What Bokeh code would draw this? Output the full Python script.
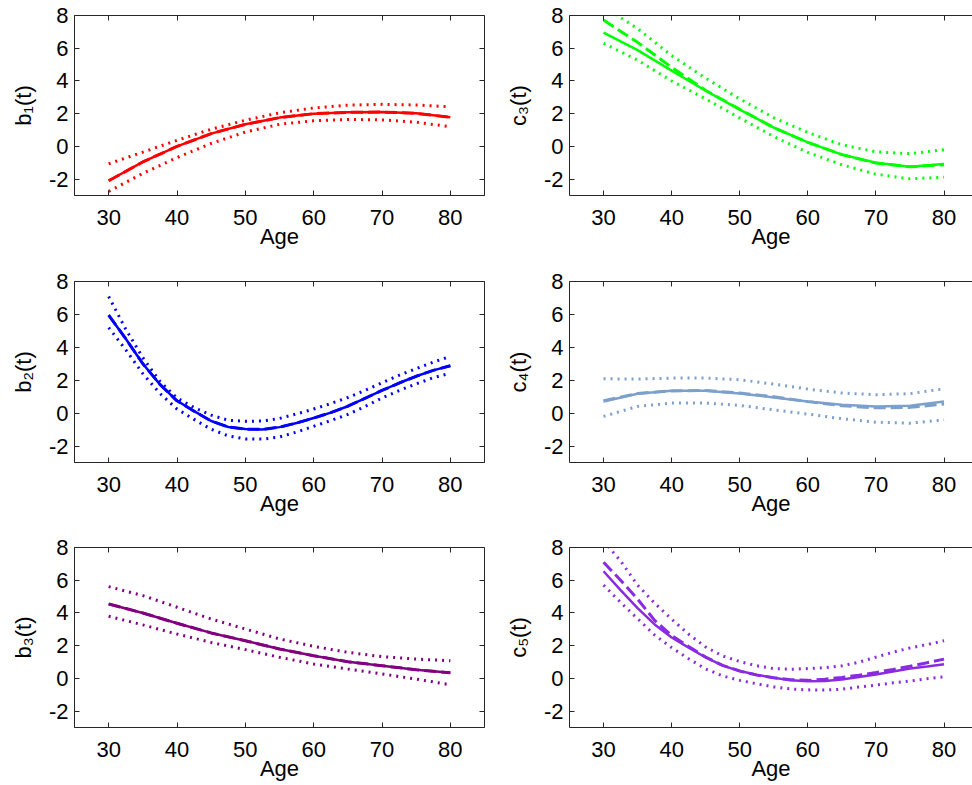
from bokeh.plotting import figure
from bokeh.layouts import gridplot
from bokeh.models import FixedTicker, LinearAxis, Range1d
from bokeh.embed import file_html
from bokeh.resources import INLINE

# ---------------- data ----------------
AGE_5 = [30, 35, 40, 45, 50, 55, 60, 65, 70, 75, 80]
AGE_25 = [30, 32.5, 35, 37.5, 40, 42.5, 45, 47.5, 50, 52.5, 55, 57.5, 60,
          62.5, 65, 67.5, 70, 72.5, 75, 77.5, 80]
X_TICKS = [30, 40, 50, 60, 70, 80]
Y_TICKS = [-2, 0, 2, 4, 6, 8]
X_LIMITS = [25, 85]
Y_LIMITS = [-3, 8]
X_LABEL = "Age"

# b1(t)
B1_LABEL = "b\u2081(t)"
B1_EST = [-2.1, -0.95, 0.0, 0.78, 1.35, 1.76, 2.0, 2.08, 2.1, 2.02, 1.78]
B1_TRUE = [-2.1, -0.95, 0.0, 0.78, 1.35, 1.76, 2.0, 2.08, 2.1, 2.02, 1.78]
B1_UP = [-1.06, -0.35, 0.37, 1.05, 1.6, 2.05, 2.35, 2.52, 2.57, 2.53, 2.42]
B1_LO = [-2.75, -1.65, -0.68, 0.18, 0.88, 1.35, 1.57, 1.65, 1.62, 1.48, 1.2]

# b2(t)
B2_LABEL = "b\u2082(t)"
B2_EST = [5.95, 4.52, 3.0, 1.75, 0.75, 0.12, -0.48, -0.84, -0.97, -0.99, -0.85,
          -0.6, -0.3, 0.03, 0.42, 0.9, 1.38, 1.83, 2.24, 2.6, 2.88]
B2_TRUE = [5.95, 4.52, 3.0, 1.75, 0.75, 0.12, -0.48, -0.84, -0.97, -0.99, -0.85,
           -0.6, -0.3, 0.03, 0.42, 0.9, 1.38, 1.83, 2.24, 2.6, 2.88]
B2_UP = [7.09, 5.1, 3.37, 1.93, 0.92, 0.34, -0.12, -0.43, -0.5, -0.48, -0.32,
         -0.05, 0.25, 0.58, 0.95, 1.38, 1.85, 2.3, 2.7, 3.1, 3.45]
B2_LO = [5.2, 3.85, 2.4, 1.2, 0.25, -0.38, -0.98, -1.38, -1.57, -1.58, -1.45,
         -1.15, -0.8, -0.45, -0.08, 0.4, 0.92, 1.37, 1.78, 2.15, 2.43]

# b3(t)
B3_LABEL = "b\u2083(t)"
B3_EST = [4.55, 4.0, 3.37, 2.78, 2.3, 1.8, 1.39, 1.02, 0.78, 0.53, 0.35]
B3_TRUE = [4.55, 4.0, 3.37, 2.78, 2.3, 1.8, 1.39, 1.02, 0.78, 0.53, 0.35]
B3_UP = [5.61, 5.06, 4.35, 3.63, 3.02, 2.41, 1.96, 1.59, 1.33, 1.18, 1.08]
B3_LO = [3.8, 3.27, 2.71, 2.2, 1.76, 1.29, 0.88, 0.57, 0.27, -0.04, -0.39]

# c3(t)
C3_LABEL = "c\u2083(t)"
C3_EST = [6.96, 5.88, 4.63, 3.4, 2.25, 1.15, 0.25, -0.5, -1.0, -1.25, -1.08]
C3_TRUE = [7.72, 6.36, 4.83, 3.42, 2.27, 1.15, 0.25, -0.5, -1.02, -1.25, -1.12]
C3_UP = [8.55, 7.2, 5.55, 4.17, 2.9, 1.75, 0.85, 0.1, -0.33, -0.45, -0.2]
C3_LO = [6.3, 5.27, 4.0, 2.9, 1.74, 0.6, -0.37, -1.12, -1.7, -1.98, -1.88]

# c4(t)
C4_LABEL = "c\u2084(t)"
C4_EST = [0.71, 1.18, 1.36, 1.36, 1.2, 0.95, 0.71, 0.51, 0.41, 0.45, 0.71]
C4_TRUE = [0.75, 1.2, 1.35, 1.38, 1.22, 1.0, 0.7, 0.45, 0.32, 0.35, 0.55]
C4_UP = [2.09, 2.07, 2.13, 2.13, 2.03, 1.76, 1.46, 1.22, 1.12, 1.18, 1.48]
C4_LO = [-0.2, 0.41, 0.61, 0.61, 0.47, 0.2, -0.06, -0.34, -0.55, -0.61, -0.41]

# c5(t)
C5_LABEL = "c\u2085(t)"
C5_EST = [6.55, 5.4, 4.3, 3.3, 2.5, 1.88, 1.28, 0.78, 0.45, 0.22, 0.04, -0.12,
          -0.18, -0.16, -0.06, 0.08, 0.24, 0.42, 0.6, 0.73, 0.87]
C5_TRUE = [7.1, 6.0, 4.85, 3.55, 2.62, 1.95, 1.3, 0.8, 0.45, 0.2, 0.04, -0.08,
           -0.12, -0.05, 0.06, 0.2, 0.36, 0.55, 0.75, 0.96, 1.18]
C5_UP = [8.4, 7.18, 5.7, 4.6, 3.62, 2.7, 1.92, 1.37, 1.03, 0.77, 0.6, 0.56,
         0.6, 0.66, 0.77, 0.99, 1.3, 1.6, 1.86, 2.07, 2.3]
C5_LO = [5.7, 4.65, 3.65, 2.65, 1.88, 1.2, 0.58, 0.15, -0.12, -0.33, -0.52, -0.65,
         -0.7, -0.71, -0.66, -0.53, -0.41, -0.27, -0.16, -0.02, 0.1]

# ---------------- style ----------------
FONT = "Liberation Sans"
FSIZE = "22px"
BOX = "#262626"
PX_PER_YEAR = 6.81          # horizontal scale shared by all panels
FRAME_W = [410, 403]        # right column is cropped by the picture edge
FRAME_H = [180, 181, 180]
BORDER_L = [74, 79]
BORDER_R = [6, 0]
BORDER_T = [15, 28, 27]
BORDER_B = [58, 58, 58]


def blank_labels(ticks):
    return {t: "" for t in ticks}


def make_panel(label, color, ages, est, truth, up, lo, col, row):
    x_end = X_LIMITS[0] + FRAME_W[col] / PX_PER_YEAR if col == 1 else X_LIMITS[1]
    p = figure(frame_width=FRAME_W[col], frame_height=FRAME_H[row],
               x_range=Range1d(X_LIMITS[0], x_end), y_range=Range1d(*Y_LIMITS),
               output_backend="svg", toolbar_location=None, tools="",
               min_border_left=BORDER_L[col], min_border_right=BORDER_R[col],
               min_border_top=BORDER_T[row], min_border_bottom=BORDER_B[row],
               background_fill_color="white", border_fill_color="white")
    p.outline_line_color = BOX if col == 0 else None
    p.grid.visible = False

    p.line(ages, lo, line_color=color, line_width=3, line_dash="2 5")
    p.line(ages, up, line_color=color, line_width=3, line_dash="2 5")
    p.line(ages, truth, line_color=color, line_width=3, line_dash="12 5")
    p.line(ages, est, line_color=color, line_width=2.5)

    for ax in (p.xaxis[0], p.yaxis[0]):
        ax.major_tick_in = 5
        ax.major_tick_out = 0
        ax.minor_tick_line_color = None
        ax.major_tick_line_color = BOX
        ax.axis_line_color = BOX
        ax.major_label_text_font = FONT
        ax.major_label_text_font_size = FSIZE
        ax.major_label_text_color = "black"
        ax.axis_label_text_font = FONT
        ax.axis_label_text_font_size = FSIZE
        ax.axis_label_text_font_style = "normal"
        ax.axis_label_text_color = "black"
    p.xaxis[0].ticker = FixedTicker(ticks=X_TICKS)
    p.yaxis[0].ticker = FixedTicker(ticks=Y_TICKS)
    p.yaxis[0].major_label_overrides = {t: str(t) for t in Y_TICKS}
    p.xaxis[0].axis_label = X_LABEL
    p.yaxis[0].axis_label = label
    p.xaxis[0].major_label_standoff = 14
    p.xaxis[0].axis_label_standoff = -4
    p.yaxis[0].major_label_standoff = 6
    p.yaxis[0].axis_label_standoff = 10

    top_ax = LinearAxis(ticker=FixedTicker(ticks=X_TICKS), major_tick_in=5,
                        major_tick_out=0, minor_tick_line_color=None,
                        major_tick_line_color=BOX,
                        axis_line_color=(None if col == 0 else BOX),
                        major_label_overrides=blank_labels(X_TICKS),
                        major_label_text_font_size="1px", major_label_standoff=0)
    p.add_layout(top_ax, "above")
    if col == 0:
        right_ax = LinearAxis(ticker=FixedTicker(ticks=Y_TICKS), major_tick_in=5,
                              major_tick_out=0, minor_tick_line_color=None,
                              major_tick_line_color=BOX, axis_line_color=None,
                              major_label_overrides=blank_labels(Y_TICKS),
                              major_label_text_font_size="1px",
                              major_label_standoff=0)
        p.add_layout(right_ax, "right")
    return p


p1 = make_panel(B1_LABEL, "#FF0000", AGE_5, B1_EST, B1_TRUE, B1_UP, B1_LO, 0, 0)
p2 = make_panel(C3_LABEL, "#00FF00", AGE_5, C3_EST, C3_TRUE, C3_UP, C3_LO, 1, 0)
p3 = make_panel(B2_LABEL, "#0000FF", AGE_25, B2_EST, B2_TRUE, B2_UP, B2_LO, 0, 1)
p4 = make_panel(C4_LABEL, "#7BA0CC", AGE_5, C4_EST, C4_TRUE, C4_UP, C4_LO, 1, 1)
p5 = make_panel(B3_LABEL, "#800080", AGE_5, B3_EST, B3_TRUE, B3_UP, B3_LO, 0, 2)
p6 = make_panel(C5_LABEL, "#8A2BE2", AGE_25, C5_EST, C5_TRUE, C5_UP, C5_LO, 1, 2)

grid = gridplot([[p1, p2], [p3, p4], [p5, p6]], toolbar_location=None)

open("out.html", "w").write(file_html(grid, INLINE))
